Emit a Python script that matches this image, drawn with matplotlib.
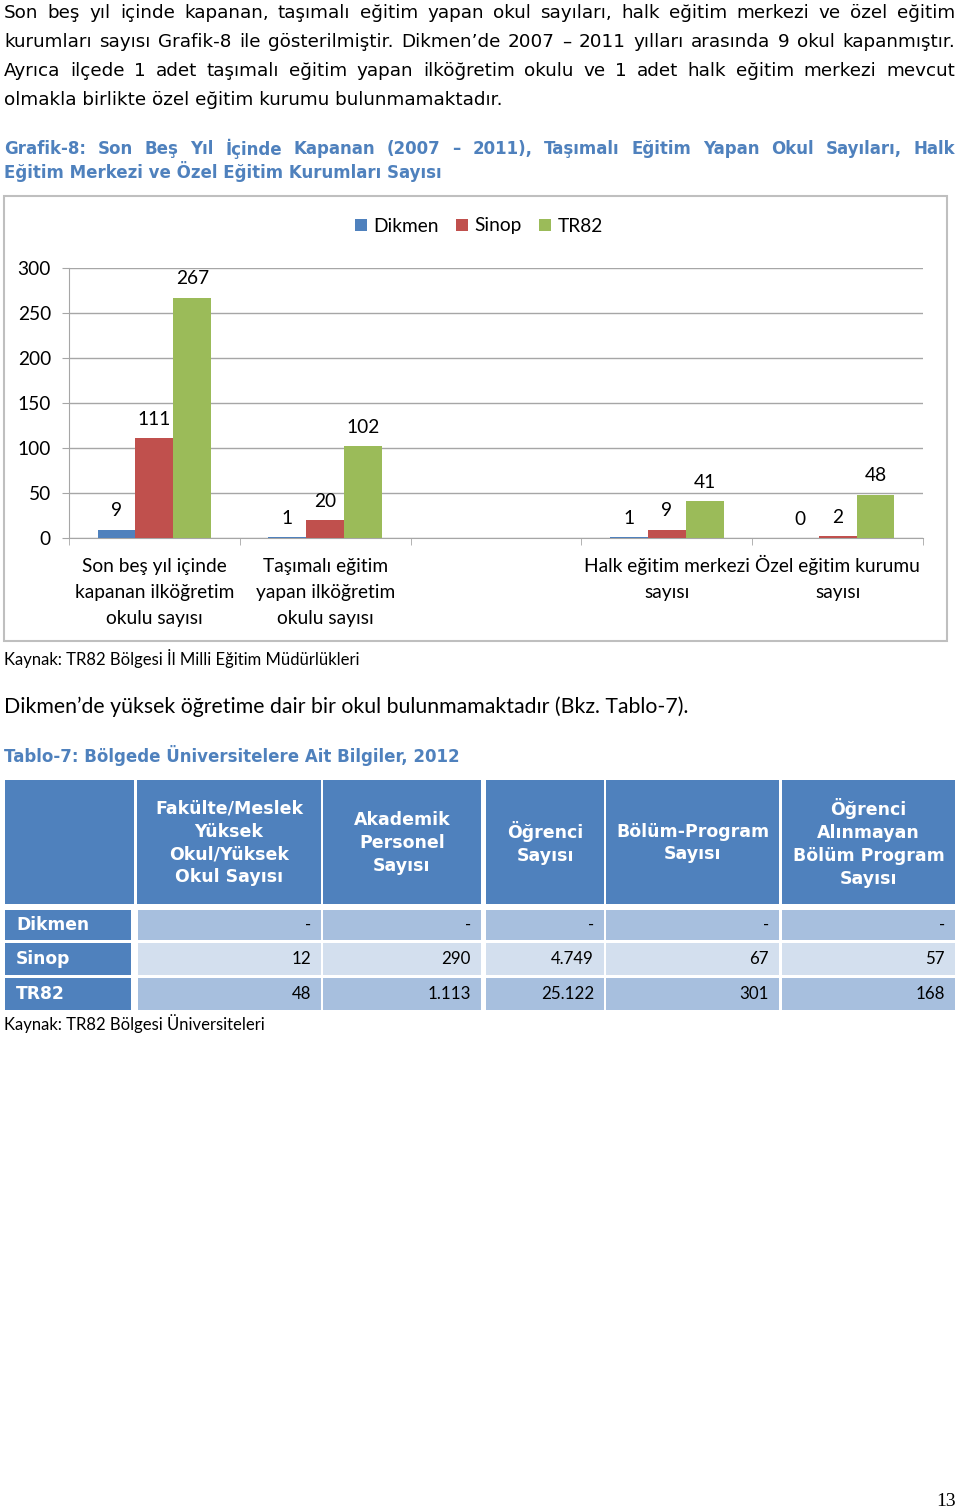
import numpy as np
import matplotlib
matplotlib.use("Agg")
import matplotlib.pyplot as plt
import matplotlib.patches as patches
import matplotlib.transforms as mtransforms

# ---- data ----
categories = ["Son beş yıl içinde\nkapanan ilköğretim\nokulu sayısı",
              "Taşımalı eğitim\nyapan ilköğretim\nokulu sayısı",
              "",
              "Halk eğitim merkezi\nsayısı",
              "Özel eğitim kurumu\nsayısı"]
series_names = ["Dikmen", "Sinop", "TR82"]
dikmen = [9, 1, np.nan, 1, 0]
sinop = [111, 20, np.nan, 9, 2]
tr82 = [267, 102, np.nan, 41, 48]
y_ticks = [0, 50, 100, 150, 200, 250, 300]

table_cols = ["Fakülte/Meslek\nYüksek\nOkul/Yüksek\nOkul Sayısı",
              "Akademik\nPersonel\nSayısı",
              "Öğrenci\nSayısı",
              "Bölüm-Program\nSayısı",
              "Öğrenci\nAlınmayan\nBölüm Program\nSayısı"]
table_rows = ["Dikmen", "Sinop", "TR82"]
dikmen_row = ["-", "-", "-", "-", "-"]
sinop_row = ["12", "290", "4.749", "67", "57"]
tr82_row = ["48", "1.113", "25.122", "301", "168"]

body_lines = [
    "Son beş yıl içinde kapanan, taşımalı eğitim yapan okul sayıları, halk eğitim merkezi ve özel eğitim",
    "kurumları sayısı Grafik-8 ile gösterilmiştir. Dikmen’de 2007 – 2011 yılları arasında 9 okul kapanmıştır.",
    "Ayrıca ilçede 1 adet taşımalı eğitim yapan ilköğretim okulu ve 1 adet halk eğitim merkezi mevcut",
    "olmakla birlikte özel eğitim kurumu bulunmamaktadır.",
]
title_lines = [
    "Grafik-8: Son Beş Yıl İçinde Kapanan (2007 – 2011), Taşımalı Eğitim Yapan Okul Sayıları, Halk",
    "Eğitim Merkezi ve Özel Eğitim Kurumları Sayısı",
]

BLUE = "#4F81BD"
RED = "#C0504D"
GREEN = "#9BBB59"
TITLE_BLUE = "#4F81BD"
GRID = "#A6A6A6"
CHART_FS = 13.8

W, H = 960, 1511
fig = plt.figure(figsize=(W / 100, H / 100), dpi=100)
px = mtransforms.Affine2D().scale(1 / W, -1 / H).translate(0, 1) + fig.transFigure
renderer = fig.canvas.get_renderer()


def put_line(text, y, x0=4, x1=955, justify=True, **kw):
    if not justify:
        fig.text(x0, y, text, transform=px, va="center", ha="left", **kw)
        return
    words = text.split(" ")
    items = [fig.text(0, y, w, transform=px, va="center", ha="left", **kw) for w in words]
    widths = [t.get_window_extent(renderer).width for t in items]
    gap = (x1 - x0 - sum(widths)) / (len(words) - 1)
    x = x0
    for t, w in zip(items, widths):
        t.set_position((x, y))
        x += w + gap


body_font = dict(family="DejaVu Sans", fontsize=13.2, color="black")
for i, line in enumerate(body_lines):
    put_line(line, 13 + 29 * i, justify=(i < 3), **body_font)

title_font = dict(family="DejaVu Sans", fontsize=12, fontweight="bold", color=TITLE_BLUE)
put_line(title_lines[0], 149, justify=True, **title_font)
put_line(title_lines[1], 172, justify=False, **title_font)

# ---- chart ----
fig.patches.append(patches.Rectangle((4, 196), 943, 445, transform=px, fill=False,
                                     edgecolor="#BFBFBF", linewidth=1.5))

ax = fig.add_axes([69 / W, 1 - 538 / H, (923 - 69) / W, (538 - 268) / H])
x = np.arange(len(categories))
bw = 0.222
for off, vals, col, name in zip([-bw, 0, bw], [dikmen, sinop, tr82],
                                [BLUE, RED, GREEN], series_names):
    ax.bar(x + off, vals, width=bw, color=col, label=name, zorder=3)
    for xi, v in zip(x, vals):
        if np.isnan(v):
            continue
        ax.annotate(f"{v:g}", (xi + off, v), xytext=(0, 7.5), textcoords="offset points",
                    ha="center", va="bottom", family="Lato", fontsize=CHART_FS)

ax.set_xlim(-0.5, len(categories) - 0.5)
ax.set_ylim(0, 300)
ax.set_yticks(y_ticks)
ax.yaxis.grid(True, color=GRID, linewidth=1, zorder=0)
ax.set_axisbelow(True)
for s in ["top", "right"]:
    ax.spines[s].set_visible(False)
for s in ["left", "bottom"]:
    ax.spines[s].set_color(GRID)
ax.set_xticks(x)
ax.set_xticklabels([])
ax.set_xticks(np.arange(-0.5, len(categories)), minor=True)
ax.tick_params(axis="x", which="major", length=0)
ax.tick_params(axis="x", which="minor", length=5, color=GRID, direction="out")
ax.tick_params(axis="y", length=5, color=GRID, pad=8, labelsize=CHART_FS)
for lab in ax.get_yticklabels():
    lab.set_family("Lato")

# category labels, one text per line so every line sits on the same baseline
for xi, cat in zip(x, categories):
    for j, part in enumerate(cat.split("\n")):
        tr = mtransforms.offset_copy(ax.get_xaxis_transform(), fig=fig,
                                     y=-(34 + 26 * j), units="dots")
        ax.text(xi, 0, part, transform=tr, ha="center", va="baseline",
                family="Lato", fontsize=CHART_FS, clip_on=False)

fig.legend(loc="center", bbox_to_anchor=(479 / W, 1 - 226 / H), ncol=3, frameon=False,
           handlelength=0.6, handleheight=0.6, handletextpad=0.35, columnspacing=0.9,
           prop=dict(family="Lato", size=CHART_FS))

fig.text(4, 659, "Kaynak: TR82 Bölgesi İl Milli Eğitim Müdürlükleri", transform=px,
         va="center", family="Lato", fontsize=12)
fig.text(4, 707, "Dikmen’de yüksek öğretime dair bir okul bulunmamaktadır (Bkz. Tablo-7).",
         transform=px, va="center", family="Lato", fontsize=15.3)
fig.text(4, 755, "Tablo-7: Bölgede Üniversitelere Ait Bilgiler, 2012", transform=px,
         va="center", **title_font)

# ---- table ----
col_x = [(137, 321), (323, 481), (486, 604), (606, 779), (782, 955)]
row_y = [(910, 940), (943, 975), (978, 1010)]
row_vals = [dikmen_row, sinop_row, tr82_row]
row_fill = ["#A7BFDE", "#D3DFEE", "#A7BFDE"]

fig.patches.append(patches.Rectangle((5, 780), 129, 124, transform=px, color=BLUE, lw=0))
for (xa, xb), head in zip(col_x, table_cols):
    fig.patches.append(patches.Rectangle((xa, 780), xb - xa, 124, transform=px, color=BLUE, lw=0))
    fig.text((xa + xb) / 2, 843, head, transform=px, ha="center", va="center",
             family="DejaVu Sans", fontweight="bold", fontsize=12.5, color="white",
             linespacing=1.35, multialignment="center")

for (ya, yb), name, vals, fill in zip(row_y, table_rows, row_vals, row_fill):
    fig.patches.append(patches.Rectangle((5, ya), 126, yb - ya, transform=px, color=BLUE, lw=0))
    fig.text(16, (ya + yb) / 2, name, transform=px, va="center", family="DejaVu Sans",
             fontweight="bold", fontsize=12.3, color="white")
    for (xa, xb), v in zip(col_x, vals):
        xa2 = xa + 1 if xa == 137 else xa
        fig.patches.append(patches.Rectangle((xa2, ya), xb - xa2, yb - ya, transform=px,
                                             color=fill, lw=0))
        fig.text(xb - 10, (ya + yb) / 2, v, transform=px, ha="right", va="center",
                 family="Lato", fontsize=12.2, color="black")

fig.text(4, 1024, "Kaynak: TR82 Bölgesi Üniversiteleri", transform=px, va="center",
         family="Lato", fontsize=12)
fig.text(956, 1501, "13", transform=px, ha="right", va="center",
         family="Liberation Serif", fontsize=14)

fig.savefig("out.png", dpi=100, facecolor="white")
